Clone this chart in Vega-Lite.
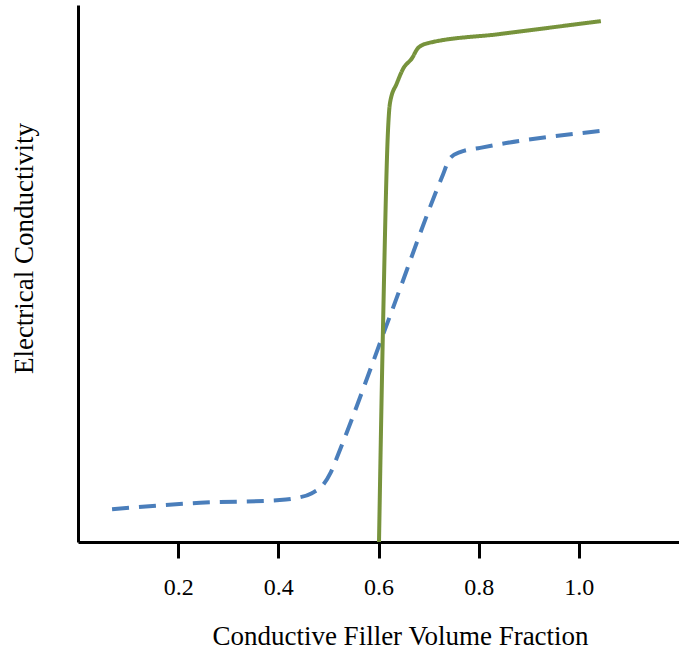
{
  "$schema": "https://vega.github.io/schema/vega-lite/v6.json",
  "width": 601,
  "height": 537,
  "autosize": "none",
  "padding": {"left": 78, "top": 5, "right": 0, "bottom": 115},
  "background": "white",
  "config": {"view": {"stroke": null}, "font": "Liberation Serif"},
  "data": {"values": [
    {"series": "dashed", "x": 0.068, "y": 0.61},
    {"series": "dashed", "x": 0.244, "y": 0.73},
    {"series": "dashed", "x": 0.403, "y": 0.78},
    {"series": "dashed", "x": 0.437, "y": 0.82},
    {"series": "dashed", "x": 0.467, "y": 0.91},
    {"series": "dashed", "x": 0.489, "y": 1.06},
    {"series": "dashed", "x": 0.505, "y": 1.3},
    {"series": "dashed", "x": 0.519, "y": 1.62},
    {"series": "dashed", "x": 0.623, "y": 4.21},
    {"series": "dashed", "x": 0.727, "y": 6.8},
    {"series": "dashed", "x": 0.743, "y": 7.15},
    {"series": "dashed", "x": 0.763, "y": 7.26},
    {"series": "dashed", "x": 0.803, "y": 7.34},
    {"series": "dashed", "x": 1.06, "y": 7.67},
    {"series": "solid", "x": 0.601, "y": 0.0},
    {"series": "solid", "x": 0.609, "y": 4.0},
    {"series": "solid", "x": 0.619, "y": 7.67},
    {"series": "solid", "x": 0.623, "y": 8.18},
    {"series": "solid", "x": 0.637, "y": 8.55},
    {"series": "solid", "x": 0.649, "y": 8.81},
    {"series": "solid", "x": 0.667, "y": 9.01},
    {"series": "solid", "x": 0.679, "y": 9.2},
    {"series": "solid", "x": 0.699, "y": 9.29},
    {"series": "solid", "x": 0.843, "y": 9.46},
    {"series": "solid", "x": 1.044, "y": 9.7}
  ]},
  "mark": {"type": "line", "strokeWidth": 4, "interpolate": "monotone"},
  "encoding": {
    "x": {
      "field": "x", "type": "quantitative",
      "scale": {"domain": [0, 1.2], "nice": false, "zero": false},
      "axis": {
        "title": "Conductive Filler Volume Fraction",
        "values": [0.2, 0.4, 0.6, 0.8, 1.0],
        "format": ".1f",
        "grid": false,
        "domainColor": "black", "domainWidth": 3,
        "tickColor": "black", "tickWidth": 3, "tickSize": 16,
        "labelFont": "Liberation Serif", "labelFontSize": 24, "labelColor": "black", "labelPadding": 17,
        "titleFont": "Liberation Serif", "titleFontSize": 27, "titleFontWeight": "normal", "titleColor": "black",
        "titleX": 322, "titleY": 81
      }
    },
    "y": {
      "field": "y", "type": "quantitative",
      "scale": {"domain": [0, 10], "nice": false},
      "axis": {
        "title": "Electrical Conductivity",
        "ticks": false, "labels": false, "grid": false,
        "domainColor": "black", "domainWidth": 3,
        "titleFont": "Liberation Serif", "titleFontSize": 27, "titleFontWeight": "normal", "titleColor": "black",
        "titleX": -40, "titleY": 243
      }
    },
    "color": {
      "field": "series", "type": "nominal",
      "scale": {"domain": ["dashed", "solid"], "range": ["#4A7EBB", "#77933C"]},
      "legend": null
    },
    "strokeDash": {
      "field": "series", "type": "nominal",
      "scale": {"domain": ["dashed", "solid"], "range": [[17, 10], [1, 0]]},
      "legend": null
    }
  }
}
